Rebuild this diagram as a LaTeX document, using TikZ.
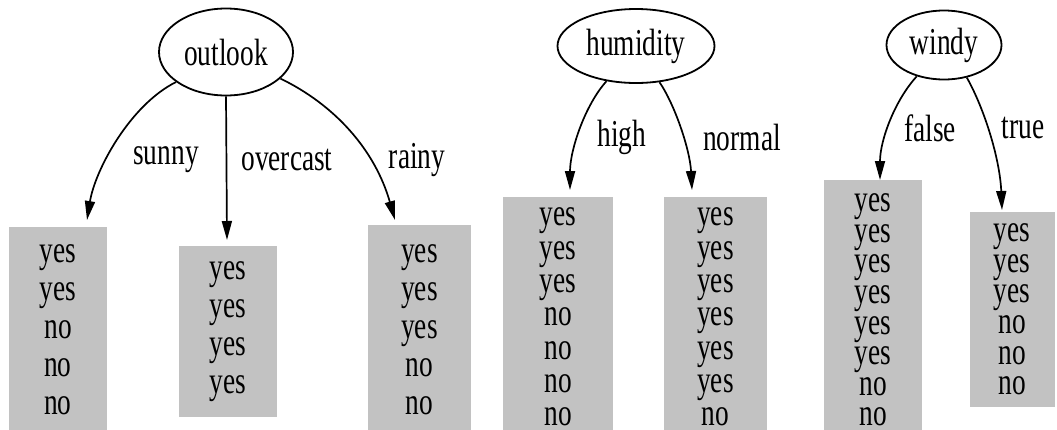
\documentclass[tikz,border=0pt]{standalone}
\usepackage{fontspec}
\setmainfont{Liberation Serif}
\newfontfamily\tallfont[FakeStretch=0.72]{Liberation Serif}
\usetikzlibrary{shapes.geometric,arrows.meta}
\definecolor{boxgray}{HTML}{C2C2C2}
\tikzset{
  attr/.style={draw, ellipse, line width=1.8pt, inner sep=0pt, font=\tallfont\fontsize{38}{38}\selectfont},
  edge/.style={line width=1.7pt, -{Triangle[length=19pt,width=10pt]}},
  lbl/.style={inner sep=0pt, font=\tallfont\fontsize{38}{38}\selectfont},
  leafbox/.style={fill=boxgray, inner sep=0pt, align=center},
  rowsA/.style={font=\tallfont\fontsize{38}{38}\selectfont},
  rowsB/.style={font=\tallfont\fontsize{38}{33.3}\selectfont},
  rowsC/.style={font=\tallfont\fontsize{38}{30.6}\selectfont},
}
\begin{document}
\begin{tikzpicture}[x=1pt,y=-1pt]
\useasboundingbox (0,0) rectangle (1057,429);
% outlook
\node[attr, minimum width=134, minimum height=87] (outlook) at (226,52) {outlook};
\node[leafbox, rowsA, minimum width=98, minimum height=206] (sunnybox) at (58,330) {yes\\yes\\no\\no\\no};
\node[leafbox, rowsA, minimum width=98, minimum height=171] (overbox) at (228,331.5) {yes\\yes\\yes\\yes};
\node[leafbox, rowsA, minimum width=103, minimum height=210] (rainybox) at (419.5,330) {yes\\yes\\yes\\no\\no};
\coordinate (t1) at (87,220);
\coordinate (t2) at (227,240);
\coordinate (t3) at (395,220);
\draw[edge] (outlook.211) .. controls (130,105) and (95,170) .. (t1);
\draw[edge] (outlook.south) -- (t2);
\draw[edge] (outlook.334) .. controls (335,105) and (375,150) .. (t3);
\node[lbl] (l1) at (166,160) {sunny};
\node[lbl] (l2) at (287,160) {overcast};
\node[lbl] (l3) at (417,160) {rainy};
% humidity
\node[attr, minimum width=157, minimum height=74] (humidity) at (636,46) {humidity};
\node[leafbox, rowsB, minimum width=110, minimum height=240] (highbox) at (558,317) {yes\\yes\\yes\\no\\no\\no\\no};
\node[leafbox, rowsB, minimum width=103, minimum height=240] (normbox) at (715.5,317) {yes\\yes\\yes\\yes\\yes\\yes\\no};
\coordinate (t4) at (570,190);
\coordinate (t5) at (692,190);
\draw[edge] (humidity.230) .. controls (585,105) and (570,150) .. (t4);
\draw[edge] (humidity.303) .. controls (675,105) and (690,150) .. (t5);
\node[lbl] (l4) at (622,137) {high};
\node[lbl] (l5) at (742,137) {normal};
% windy
\node[attr, minimum width=115, minimum height=69] (windy) at (944,45) {windy};
\node[leafbox, rowsC, minimum width=98, minimum height=260] (falsebox) at (873,310) {yes\\yes\\yes\\yes\\yes\\yes\\no\\no};
\node[leafbox, rowsC, minimum width=85, minimum height=195] (truebox) at (1012,309.5) {yes\\yes\\yes\\no\\no\\no};
\coordinate (t6) at (880,180);
\coordinate (t7) at (1002,210);
\draw[edge] (windy.229) .. controls (895,100) and (880,140) .. (t6);
\draw[edge] (windy.305) .. controls (985,110) and (1000,160) .. (t7);
\node[lbl] (l6) at (930,128) {false};
\node[lbl] (l7) at (1023,128) {true};
\end{tikzpicture}
\end{document}
